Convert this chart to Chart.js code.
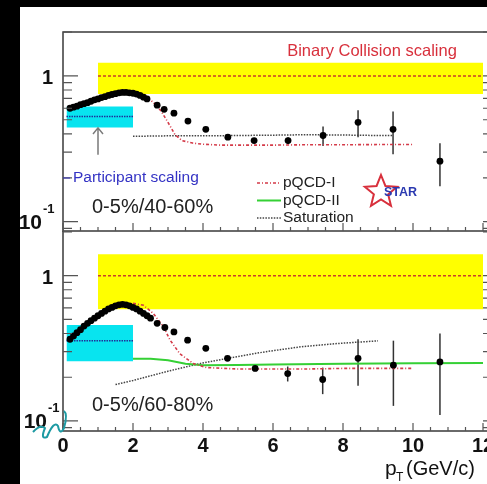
<!DOCTYPE html>
<html>
<head>
<meta charset="utf-8">
<script src="https://cdn.jsdelivr.net/npm/chart.js@4.4.1/dist/chart.umd.min.js"></script>
<style>
  html, body { margin: 0; padding: 0; background: #fff; width: 487px; height: 484px; overflow: hidden; }
  #wrap { position: relative; width: 487px; height: 484px; overflow: hidden; }
  canvas { position: absolute; left: 0; top: 0; }
  .barTop { position: absolute; left: 0; top: 0; width: 487px; height: 7px; background: #000; }
  .barLeft { position: absolute; left: 0; top: 0; width: 20px; height: 484px; background: #000; }
</style>
</head>
<body>
<div id="wrap">
  <canvas id="topChart" width="500" height="240"></canvas>
  <canvas id="bottomChart" width="500" height="484"></canvas>
  <div class="barTop"></div>
  <div class="barLeft"></div>
</div>
<script>
// ---- data (pT in GeV/c, ratio R_CP) ----
// 0-5% / 40-60%
const ptTop = [0.2, 0.3, 0.4, 0.5, 0.6, 0.7, 0.8, 0.9, 1.0, 1.1, 1.2, 1.3, 1.4, 1.5, 1.6, 1.7, 1.8, 1.9, 2.0, 2.1, 2.2, 2.3, 2.4,
               2.69, 2.89, 3.17, 3.57, 4.08, 4.71, 5.46, 6.43, 7.43, 8.43, 9.43, 10.77];
const rcpTop = [0.60, 0.61, 0.62, 0.635, 0.645, 0.655, 0.67, 0.685, 0.695, 0.71, 0.72, 0.735, 0.745, 0.755, 0.765, 0.77, 0.77, 0.765, 0.76, 0.75, 0.735, 0.715, 0.695,
                0.63, 0.59, 0.555, 0.49, 0.43, 0.38, 0.36, 0.36, 0.39, 0.48, 0.43, 0.26];
const errTop = [0, 0, 0, 0, 0, 0, 0, 0, 0, 0, 0, 0, 0, 0, 0, 0, 0, 0, 0, 0, 0, 0, 0,
                0, 0, 0, 0, 0, 0, 0.01, 0.02, 0.06, 0.10, 0.14, 0.085];

// 0-5% / 60-80%
const ptBot = [0.2, 0.3, 0.4, 0.5, 0.6, 0.7, 0.8, 0.9, 1.0, 1.1, 1.2, 1.3, 1.4, 1.5, 1.6, 1.7, 1.8, 1.9, 2.0, 2.1, 2.2, 2.3, 2.4, 2.5,
               2.69, 2.91, 3.17, 3.56, 4.08, 4.7, 5.49, 6.42, 7.42, 8.43, 9.44, 10.77];
const rcpBot = [0.365, 0.385, 0.405, 0.425, 0.45, 0.47, 0.49, 0.51, 0.53, 0.55, 0.57, 0.59, 0.605, 0.62, 0.63, 0.635, 0.63, 0.62, 0.605, 0.59, 0.57, 0.55, 0.53, 0.51,
                0.47, 0.44, 0.41, 0.36, 0.316, 0.27, 0.23, 0.212, 0.193, 0.27, 0.242, 0.255];
const errBot = [0, 0, 0, 0, 0, 0, 0, 0, 0, 0, 0, 0, 0, 0, 0, 0, 0, 0, 0, 0, 0, 0, 0, 0,
                0, 0, 0, 0, 0, 0, 0.01, 0.025, 0.04, 0.095, 0.115, 0.145];

// model curves
const pqcd1TopPt  = [2.0, 2.2, 2.4, 2.6, 2.8, 3.0, 3.2, 3.4, 3.7, 4.0, 4.5, 5.0, 6.0, 7.0, 8.0, 9.0, 10.0];
const pqcd1TopVal = [0.77, 0.76, 0.72, 0.65, 0.575, 0.48, 0.395, 0.36, 0.346, 0.34, 0.335, 0.335, 0.335, 0.337, 0.337, 0.338, 0.338];
const satTopPt  = [2.0, 3.0, 4.0, 5.0, 6.0, 7.0, 8.0, 9.0, 9.4];
const satTopVal = [0.385, 0.388, 0.388, 0.39, 0.392, 0.395, 0.393, 0.39, 0.39];

const pqcd1BotPt  = [2.0, 2.3, 2.58, 2.87, 3.06, 3.34, 3.72, 4.1, 5.0, 6.0, 7.0, 8.0, 9.0, 10.0];
const pqcd1BotVal = [0.645, 0.625, 0.55, 0.445, 0.36, 0.29, 0.249, 0.233, 0.228, 0.228, 0.228, 0.23, 0.23, 0.23];
const pqcd2BotPt  = [2.0, 2.5, 3.0, 3.5, 4.0, 5.0, 6.0, 8.0, 10.0, 12.0];
const pqcd2BotVal = [0.268, 0.268, 0.262, 0.248, 0.242, 0.243, 0.245, 0.248, 0.25, 0.251];
const satBotPt  = [1.5, 2.0, 3.0, 3.9, 4.7, 5.8, 6.8, 7.9, 9.0];
const satBotVal = [0.178, 0.19, 0.22, 0.248, 0.27, 0.30, 0.324, 0.342, 0.356];

// scaling bands [x from, x to, low, high, central]
const binaryTop = [1, 12, 0.75, 1.23, 1.0];
const binaryBot = [1, 12, 0.587, 1.406, 1.0];
const partTop = [0.1, 2.0, 0.443, 0.616, 0.526];
const partBot = [0.1, 2.0, 0.258, 0.457, 0.356];

const xTickLabels = [0, 2, 4, 6, 8, 10, 12];
const yTicks = [0.09, 0.1, 0.2, 0.3, 0.4, 0.5, 0.6, 0.7, 0.8, 0.9, 1, 2];

const FONT = "'Liberation Sans', Arial, Helvetica, sans-serif";

const styles = {
    "pQCD-I": { borderColor: "#d43a48", borderWidth: 1.6, borderDash: [3, 2, 1, 2] },
    "pQCD-II": { borderColor: "#35d035", borderWidth: 2, borderDash: [] },
    "Saturation": { borderColor: "#444", borderWidth: 1.5, borderDash: [1.5, 1.3] },
};

function pts(xs, ys) {
    return xs.map((x, i) => ({ x: x, y: ys[i] }));
}

function curve(label, xs, ys) {
    return Object.assign({ label: label, data: pts(xs, ys), pointRadius: 0, fill: false, tension: 0 }, styles[label]);
}

function band(label, b, color) {
    return [
        { label: label + " hi", data: pts([b[0], b[1]], [b[3], b[3]]), pointRadius: 0, borderColor: "rgba(0,0,0,0)", backgroundColor: color, fill: "+1" },
        { label: label + " lo", data: pts([b[0], b[1]], [b[2], b[2]]), pointRadius: 0, borderColor: "rgba(0,0,0,0)", fill: false },
    ];
}

function bandLine(label, b, color, dash) {
    return { label: label, data: pts([b[0], b[1]], [b[4], b[4]]), pointRadius: 0, borderColor: color, borderWidth: 1.5, borderDash: dash, fill: false };
}

function drawStar(ctx, cx, cy, R, r) {
    ctx.beginPath();
    for (let i = 0; i < 10; i++) {
        const rad = i % 2 === 0 ? R : r;
        const a = -Math.PI / 2 + (i * Math.PI) / 5;
        const px = cx + rad * Math.cos(a);
        const py = cy + rad * Math.sin(a);
        if (i === 0) ctx.moveTo(px, py);
        else ctx.lineTo(px, py);
    }
    ctx.closePath();
    ctx.stroke();
}

function panelPlugin(cfg) {
    return {
        id: "panel_" + cfg.name,
        beforeDatasetsDraw(chart) {
            // error bars
            const { ctx, scales: { x, y } } = chart;
            ctx.save();
            ctx.strokeStyle = "#333";
            ctx.lineWidth = 1.5;
            cfg.pt.forEach((p, i) => {
                const e = cfg.err[i];
                if (!e) return;
                const px = x.getPixelForValue(p);
                ctx.beginPath();
                ctx.moveTo(px, y.getPixelForValue(cfg.val[i] - e));
                ctx.lineTo(px, y.getPixelForValue(cfg.val[i] + e));
                ctx.stroke();
            });
            ctx.restore();
        },
        afterDraw(chart) {
            const { ctx, chartArea: a, scales: { x, y } } = chart;
            ctx.save();
            // frame
            ctx.strokeStyle = "#3a3a3a";
            ctx.lineWidth = 1.5;
            ctx.beginPath();
            if (cfg.name === "top") {
                ctx.moveTo(a.right + 6, a.top);
                ctx.lineTo(a.left, a.top);
            } else {
                ctx.moveTo(a.left, a.top);
            }
            ctx.lineTo(a.left, a.bottom);
            ctx.lineTo(a.right + 6, a.bottom);
            ctx.stroke();

            // y ticks (inside on the left, small ones on the right)
            ctx.lineWidth = 1.2;
            ctx.strokeStyle = "#555";
            yTicks.forEach((v) => {
                const py = y.getPixelForValue(v);
                if (py < a.top - 0.5 || py > a.bottom + 0.5) return;
                const major = v === 1 || v === 0.1;
                ctx.beginPath();
                ctx.moveTo(a.left, py);
                ctx.lineTo(a.left + (major ? 15 : 9), py);
                ctx.moveTo(a.right, py);
                ctx.lineTo(a.right + 6, py);
                ctx.stroke();
            });
            // x ticks along the bottom edge
            for (let k = 0; k <= 24; k++) {
                const v = k * 0.5;
                const px = x.getPixelForValue(v);
                const len = k % 4 === 0 ? 8 : 4;
                ctx.beginPath();
                ctx.moveTo(px, a.bottom);
                ctx.lineTo(px, a.bottom - len);
                ctx.stroke();
            }

            // 10^-1 label
            ctx.fillStyle = "#111";
            ctx.textAlign = "right";
            ctx.textBaseline = "alphabetic";
            ctx.font = "bold 21px " + FONT;
            const p01 = y.getPixelForValue(0.1);
            ctx.fillText("10", cfg.tenRight, p01 + 7);
            ctx.textAlign = "left";
            ctx.font = "bold 13px " + FONT;
            ctx.fillText("-1", cfg.tenRight + 1, p01 - 9);

            // panel label
            ctx.font = "20px " + FONT;
            ctx.fillStyle = "#222";
            ctx.textBaseline = "middle";
            ctx.fillText(cfg.label, 92, cfg.labelY);

            cfg.extra(ctx, chart);
            ctx.restore();
        },
    };
}

function topExtras(ctx, chart) {
    const { scales: { x, y } } = chart;
    ctx.textBaseline = "middle";
    ctx.textAlign = "center";
    ctx.fillStyle = "#d8303c";
    ctx.font = "16.5px " + FONT;
    ctx.fillText("Binary Collision scaling", 372, 51);

    ctx.textAlign = "left";
    ctx.fillStyle = "#3433c4";
    ctx.font = "15.5px " + FONT;
    ctx.fillText("Participant scaling", 73, 178);
    ctx.strokeStyle = "#3433c4";
    ctx.lineWidth = 1;
    ctx.beginPath();
    ctx.moveTo(63, 178);
    ctx.lineTo(70, 178);
    ctx.stroke();

    // arrow towards participant band
    const ax = x.getPixelForValue(1.0);
    ctx.strokeStyle = "#7a7a7a";
    ctx.lineWidth = 1.5;
    ctx.beginPath();
    ctx.moveTo(ax, y.getPixelForValue(0.288));
    ctx.lineTo(ax, y.getPixelForValue(0.44));
    ctx.moveTo(ax - 5, y.getPixelForValue(0.40));
    ctx.lineTo(ax, y.getPixelForValue(0.44));
    ctx.lineTo(ax + 5, y.getPixelForValue(0.40));
    ctx.stroke();

    // legend
    const names = ["pQCD-I", "pQCD-II", "Saturation"];
    ctx.font = "15.5px " + FONT;
    ctx.fillStyle = "#222";
    names.forEach((n, i) => {
        const ly = 183 + i * 17.5;
        const s = styles[n];
        ctx.strokeStyle = s.borderColor;
        ctx.lineWidth = s.borderWidth;
        ctx.setLineDash(s.borderDash);
        ctx.beginPath();
        ctx.moveTo(257, ly);
        ctx.lineTo(281, ly);
        ctx.stroke();
        ctx.setLineDash([]);
        ctx.fillText(n, 283, ly);
    });

    // STAR logo
    ctx.strokeStyle = "#d8303c";
    ctx.lineWidth = 2;
    drawStar(ctx, 381, 192, 17, 7.5);
    ctx.fillStyle = "#2a39b0";
    ctx.font = "bold 12.5px " + FONT;
    ctx.fillText("STAR", 384, 193);
}

function bottomExtras(ctx) {
    // x axis title p_T (GeV/c)
    ctx.fillStyle = "#111";
    ctx.textAlign = "left";
    ctx.textBaseline = "alphabetic";
    ctx.font = "21px " + FONT;
    ctx.fillText("p", 385, 475);
    ctx.font = "12px " + FONT;
    ctx.fillText("T", 396, 481);
    ctx.font = "20px " + FONT;
    ctx.fillText("(GeV/c)", 406, 475);

    // hand drawn squiggle near the axis
    ctx.strokeStyle = "#1d9aa3";
    ctx.lineWidth = 2;
    ctx.lineJoin = "round";
    ctx.beginPath();
    ctx.moveTo(33, 432);
    ctx.quadraticCurveTo(40, 424, 45, 428);
    ctx.quadraticCurveTo(40, 440, 47, 437);
    ctx.quadraticCurveTo(54, 420, 58, 426);
    ctx.quadraticCurveTo(60, 436, 64, 428);
    ctx.quadraticCurveTo(68, 414, 64, 411);
    ctx.stroke();
}

function makeChart(canvasId, cfg) {
    const datasets = [
        { label: "data", data: pts(cfg.pt, cfg.val), showLine: false, pointRadius: 3.4, pointBackgroundColor: "#000", pointBorderWidth: 0 },
    ].concat(cfg.curves, [
        bandLine("binary", cfg.binary, "#c8402a", [3, 2]),
        bandLine("participant", cfg.part, "#1e2f9a", [1.5, 1]),
    ], band("binaryBand", cfg.binary, "#ffff00"), band("partBand", cfg.part, "#08e4ef"));

    return new Chart(document.getElementById(canvasId), {
        type: "line",
        data: { datasets: datasets },
        options: {
            responsive: false,
            animation: false,
            layout: { padding: cfg.padding, autoPadding: false },
            plugins: { legend: { display: false }, tooltip: { enabled: false } },
            scales: {
                x: {
                    type: "linear",
                    min: 0,
                    max: 12,
                    display: cfg.showX,
                    grid: { display: false, drawTicks: false },
                    border: { display: false },
                    afterFit: (s) => { s.height = cfg.showX ? 53 : 0; },
                    afterBuildTicks: (s) => { s.ticks = xTickLabels.map((v) => ({ value: v })); },
                    ticks: { autoSkip: false, maxRotation: 0, padding: 3, color: "#111", font: { family: FONT, size: 20, weight: "bold" } },
                },
                y: {
                    type: "logarithmic",
                    min: cfg.yMin,
                    max: cfg.yMax,
                    grid: { display: false, drawTicks: false },
                    border: { display: false },
                    afterFit: (s) => { s.width = 63; s.paddingTop = 0; s.paddingBottom = 0; },
                    ticks: {
                        autoSkip: false,
                        padding: 10,
                        labelOffset: 3,
                        color: "#111",
                        font: { family: FONT, size: 20, weight: "bold" },
                        callback: (v) => (Math.abs(v - 1) < 1e-6 ? "1" : ""),
                    },
                },
            },
        },
        plugins: [panelPlugin(cfg)],
    });
}

document.addEventListener("DOMContentLoaded", () => {
    makeChart("topChart", {
        name: "top",
        pt: ptTop, val: rcpTop, err: errTop,
        curves: [curve("pQCD-I", pqcd1TopPt, pqcd1TopVal), curve("Saturation", satTopPt, satTopVal)],
        binary: binaryTop, part: partTop,
        yMin: 0.0863, yMax: 2.0,
        padding: { top: 32, right: 17, bottom: 9, left: 0 },
        showX: false,
        tenRight: 42,
        label: "0-5%/40-60%", labelY: 207,
        extra: topExtras,
    });
    makeChart("bottomChart", {
        name: "bottom",
        pt: ptBot, val: rcpBot, err: errBot,
        curves: [curve("pQCD-I", pqcd1BotPt, pqcd1BotVal), curve("pQCD-II", pqcd2BotPt, pqcd2BotVal), curve("Saturation", satBotPt, satBotVal)],
        binary: binaryBot, part: partBot,
        yMin: 0.0853, yMax: 2.03,
        padding: { top: 231, right: 17, bottom: 0, left: 0 },
        showX: true,
        tenRight: 47,
        label: "0-5%/60-80%", labelY: 405,
        extra: bottomExtras,
    });
});
</script>
</body>
</html>
